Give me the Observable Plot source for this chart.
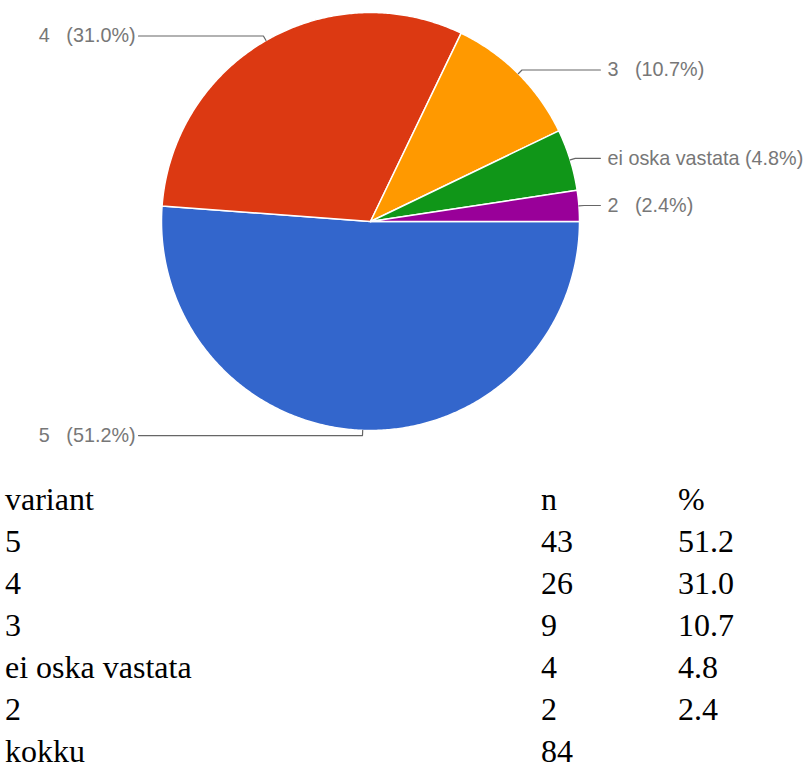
<!DOCTYPE html>
<html>
<head>
<meta charset="utf-8">
<script src="https://cdn.jsdelivr.net/npm/d3@7"></script>
<script src="https://cdn.jsdelivr.net/npm/@observablehq/plot@0.6"></script>
<style>
  html, body { margin: 0; padding: 0; background: #fff; }
  #wrap { position: relative; width: 804px; height: 765px; overflow: hidden; }
  #chart svg { display: block; }
  #tbl { position: absolute; left: 5px; top: 478px; font-family: "Liberation Serif", "Times New Roman", serif; font-size: 32px; color: #000; }
  #tbl .row { position: relative; height: 42px; line-height: 42px; white-space: nowrap; }
  #tbl .c0 { position: absolute; left: 0; }
  #tbl .c1 { position: absolute; left: 536px; }
  #tbl .c2 { position: absolute; left: 673px; }
</style>
</head>
<body>
<div id="wrap">
  <div id="chart"></div>
  <div id="tbl"></div>
</div>
<script>
// ---- data ----
const categories = ["5", "4", "3", "ei oska vastata", "2"];
const counts = [43, 26, 9, 4, 2];
const colors = ["#3366cc", "#dc3912", "#ff9900", "#109618", "#990099"];
const tableHeader = ["variant", "n", "%"];
const totalLabel = "kokku";

// ---- derived ----
const total = d3.sum(counts);
const pcts = counts.map(c => (c / total * 100).toFixed(1));

// screen angle: clockwise from east (3 o'clock)
const W = 804, H = 465;
const cx = 370, cy = 221, R = 209;
const xDomain = [-cx / R, (W - cx) / R];
const yDomain = [-(H - cy) / R, cy / R];

const slicePts = [];
const leaderPts = [];
const labels = [];
let acc = 0;
categories.forEach((cat, i) => {
  const a0 = acc / total * 2 * Math.PI;
  acc += counts[i];
  const a1 = acc / total * 2 * Math.PI;
  slicePts.push({key: cat, x: 0, y: 0});
  const steps = Math.max(2, Math.ceil((a1 - a0) / (Math.PI / 360)));
  for (let s = 0; s <= steps; s++) {
    const a = a0 + (a1 - a0) * s / steps;
    slicePts.push({key: cat, x: Math.cos(a), y: -Math.sin(a)});
  }
  slicePts.push({key: cat, x: 0, y: 0});
  const m = (a0 + a1) / 2;
  const right = Math.cos(m) > 0;
  const ex = Math.cos(m), ey = -Math.sin(m);
  const k = 1.025;
  const lineEnd = right ? 1.100 : -1.110;
  leaderPts.push({key: cat, x: ex, y: ey});
  leaderPts.push({key: cat, x: ex * k, y: ey * k});
  leaderPts.push({key: cat, x: lineEnd, y: ey * k});
  const sep = cat.length === 1 ? "\u00a0\u00a0\u00a0" : " ";
  labels.push({
    key: cat,
    x: right ? 1.134 : -1.124,
    y: ey * k,
    anchor: right ? "start" : "end",
    text: cat + sep + "(" + pcts[i] + "%)"
  });
});

const chart = Plot.plot({
  width: W,
  height: H,
  margin: 0,
  x: {domain: xDomain, axis: null},
  y: {domain: yDomain, axis: null},
  color: {domain: categories, range: colors},
  marks: [
    Plot.line(slicePts, {x: "x", y: "y", z: "key", fill: "key", stroke: "#ffffff", strokeWidth: 1.5, strokeLinejoin: "round"}),
    Plot.line(leaderPts, {x: "x", y: "y", z: "key", stroke: "#666666", strokeWidth: 1.2}),
    Plot.text(labels.filter(d => d.anchor === "start"), {x: "x", y: "y", text: "text", textAnchor: "start", fontSize: 19.8, fill: "#777777", fontFamily: "Liberation Sans, Arial, sans-serif"}),
    Plot.text(labels.filter(d => d.anchor === "end"), {x: "x", y: "y", text: "text", textAnchor: "end", fontSize: 19.8, fill: "#777777", fontFamily: "Liberation Sans, Arial, sans-serif"})
  ]
});
document.getElementById("chart").appendChild(chart);

// ---- table ----
const tbl = document.getElementById("tbl");
function addRow(cells) {
  const row = document.createElement("div");
  row.className = "row";
  cells.forEach((c, j) => {
    const s = document.createElement("span");
    s.className = "c" + j;
    s.textContent = c;
    row.appendChild(s);
  });
  tbl.appendChild(row);
}
addRow(tableHeader);
categories.forEach((cat, i) => addRow([cat, String(counts[i]), pcts[i]]));
addRow([totalLabel, String(total), ""]);
</script>
</body>
</html>
